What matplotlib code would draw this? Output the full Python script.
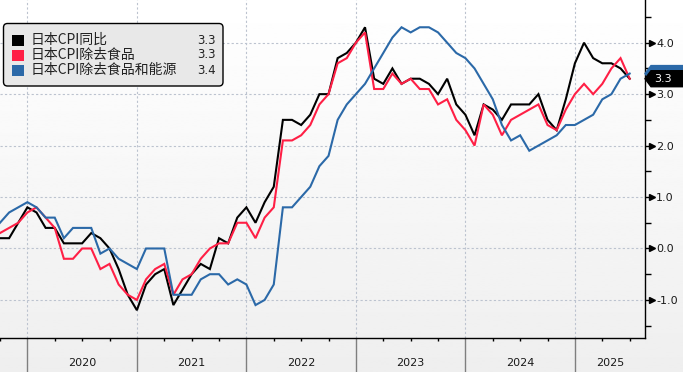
"""
Japan CPI YoY: headline, ex fresh food, ex fresh food and energy.
Bloomberg-style line chart with right-hand axis and last-value tags.
"""

import numpy as np
import pandas as pd
import matplotlib
matplotlib.use("Agg")
import matplotlib.pyplot as plt
from matplotlib.patches import FancyBboxPatch, Rectangle, Polygon
from matplotlib.transforms import IdentityTransform, blended_transform_factory

# ============================== data =========================================

MONTHS = pd.period_range("2019-09", "2025-06", freq="M")

CPI_ALL = [0.2, 0.2, 0.5, 0.8,
           0.7, 0.4, 0.4, 0.1, 0.1, 0.1, 0.3, 0.2, 0.0, -0.4, -0.9, -1.2,
           -0.7, -0.5, -0.4, -1.1, -0.8, -0.5, -0.3, -0.4, 0.2, 0.1, 0.6, 0.8,
           0.5, 0.9, 1.2, 2.5, 2.5, 2.4, 2.6, 3.0, 3.0, 3.7, 3.8, 4.0,
           4.3, 3.3, 3.2, 3.5, 3.2, 3.3, 3.3, 3.2, 3.0, 3.3, 2.8, 2.6,
           2.2, 2.8, 2.7, 2.5, 2.8, 2.8, 2.8, 3.0, 2.5, 2.3, 2.9, 3.6,
           4.0, 3.7, 3.6, 3.6, 3.5, 3.3]

CPI_CORE = [0.3, 0.4, 0.5, 0.7,
            0.8, 0.6, 0.4, -0.2, -0.2, 0.0, 0.0, -0.4, -0.3, -0.7, -0.9, -1.0,
            -0.6, -0.4, -0.3, -0.9, -0.6, -0.5, -0.2, 0.0, 0.1, 0.1, 0.5, 0.5,
            0.2, 0.6, 0.8, 2.1, 2.1, 2.2, 2.4, 2.8, 3.0, 3.6, 3.7, 4.0,
            4.2, 3.1, 3.1, 3.4, 3.2, 3.3, 3.1, 3.1, 2.8, 2.9, 2.5, 2.3,
            2.0, 2.8, 2.6, 2.2, 2.5, 2.6, 2.7, 2.8, 2.4, 2.3, 2.7, 3.0,
            3.2, 3.0, 3.2, 3.5, 3.7, 3.3]

CPI_CORE_CORE = [0.5, 0.7, 0.8, 0.9,
                 0.8, 0.6, 0.6, 0.2, 0.4, 0.4, 0.4, -0.1, 0.0, -0.2, -0.3, -0.4,
                 0.0, 0.0, 0.0, -0.9, -0.9, -0.9, -0.6, -0.5, -0.5, -0.7, -0.6, -0.7,
                 -1.1, -1.0, -0.7, 0.8, 0.8, 1.0, 1.2, 1.6, 1.8, 2.5, 2.8, 3.0,
                 3.2, 3.5, 3.8, 4.1, 4.3, 4.2, 4.3, 4.3, 4.2, 4.0, 3.8, 3.7,
                 3.5, 3.2, 2.9, 2.4, 2.1, 2.2, 1.9, 2.0, 2.1, 2.2, 2.4, 2.4,
                 2.5, 2.6, 2.9, 3.0, 3.3, 3.4]

SERIES_NAMES = ["日本CPI同比", "日本CPI除去食品", "日本CPI除去食品和能源"]
SERIES_COLORS = ["#000000", "#ff1f45", "#2b69a8"]

YEARS = [2020, 2021, 2022, 2023, 2024, 2025]
Y_TICKS = [-1, 0, 1, 2, 3, 4]

# ============================== defines ======================================

W, H = 683, 372
CJK = ["Noto Sans CJK SC", "DejaVu Sans"]
GRID_COLOR = "#bcc3cf"
XLIM = (-2.66, 67.68)
YLIM = (-1.74, 4.83)

# ============================== main =========================================


def month_pos(periods):
    # position at month end, Jan 2020 start = 0
    return np.array([(p.year - 2020) * 12 + p.month for p in periods])


def main():
    plt.rcParams["axes.unicode_minus"] = False
    plt.rcParams["font.family"] = "DejaVu Sans"

    fig = plt.figure(figsize=(W / 100, H / 100), dpi=100)

    # background gradient
    bg = fig.add_axes([0, 0, 1, 1], zorder=-10)
    bg.imshow(np.linspace(1.0, 0.935, 256).reshape(-1, 1), cmap="gray",
              vmin=0, vmax=1, aspect="auto", extent=[0, 1, 0, 1])
    bg.axis("off")

    ax = fig.add_axes([0, 34 / H, 645 / W, 338 / H])
    ax.set_facecolor("none")

    x = month_pos(MONTHS)
    series = [CPI_ALL, CPI_CORE, CPI_CORE_CORE]
    for vals, col in zip(series, SERIES_COLORS):
        ax.plot(x, vals, color=col, lw=1.5, zorder=3, solid_joinstyle="miter")

    ax.set_xlim(*XLIM)
    ax.set_ylim(*YLIM)

    # grid
    year_edges = [(y - 2020) * 12 for y in YEARS]
    for yv in Y_TICKS:
        ax.axhline(yv, color=GRID_COLOR, lw=0.8, ls=(0, (2, 2)), zorder=1)
    for xv in year_edges:
        ax.axvline(xv, color=GRID_COLOR, lw=0.8, ls=(0, (2, 2)), zorder=1)

    # spines
    for s in ["left", "top"]:
        ax.spines[s].set_visible(False)
    ax.spines["right"].set_linewidth(1.0)
    ax.spines["bottom"].set_linewidth(1.0)

    # y axis on the right
    ax.yaxis.tick_right()
    ax.set_yticks(Y_TICKS)
    ax.set_yticklabels(["%.1f" % v for v in Y_TICKS])
    ax.set_yticks(np.arange(-1.5, 4.6, 1.0), minor=True)
    ax.tick_params(axis="y", which="major", length=4, width=1, pad=4,
                   labelsize=8, labelcolor="#1a1a1a")
    ax.tick_params(axis="y", which="minor", length=4, width=1)
    yt = blended_transform_factory(ax.transAxes, ax.transData)
    ax.plot([1 + 7 / 645] * len(Y_TICKS), Y_TICKS, ">", color="black",
            markersize=4.5, transform=yt, clip_on=False)

    # x axis: quarter ticks, year separators and labels
    ax.set_xticks([])
    quarters = [q for q in range(-3, 68, 3) if q % 12 != 0]
    ax.set_xticks(quarters, minor=True)
    ax.tick_params(axis="x", which="minor", length=2.5, width=1, direction="out")
    xt = blended_transform_factory(ax.transData, ax.transAxes)
    for xv in year_edges:
        ax.plot([xv, xv], [0, -34 / 338], color="#7f7f7f", lw=1.0,
                transform=xt, clip_on=False)
    for yr, xv in zip(YEARS, year_edges):
        right = min(xv + 12, XLIM[1])
        ax.text((xv + right) / 2, -25 / 338, str(yr), transform=xt,
                ha="center", va="center", fontsize=8, color="#1a1a1a")

    # last value tags on the right axis
    fig.canvas.draw()
    for vals, col in [(CPI_CORE_CORE, SERIES_COLORS[2]), (CPI_ALL, SERIES_COLORS[0])]:
        yp = ax.transData.transform((0, vals[-1]))[1]
        x0 = ax.transAxes.transform((1, 0))[0]
        poly = Polygon([(x0, yp), (x0 + 6, yp + 8), (W, yp + 8), (W, yp - 8),
                        (x0 + 6, yp - 8)], closed=True, facecolor=col,
                       edgecolor=col, transform=IdentityTransform(), zorder=10)
        fig.add_artist(poly)
    yp = ax.transData.transform((0, CPI_ALL[-1]))[1]
    fig.text(663, yp, "%.1f" % CPI_ALL[-1], transform=IdentityTransform(),
             ha="center", va="center", fontsize=8, color="white", zorder=11)

    # legend box
    box = FancyBboxPatch((3.5, H - 86), 219.5, 62.5,
                         boxstyle="round,pad=0,rounding_size=4",
                         facecolor="#e8e8e8", edgecolor="black", lw=1.0,
                         transform=IdentityTransform(), zorder=8)
    fig.add_artist(box)
    for i, (name, col, vals) in enumerate(zip(SERIES_NAMES, SERIES_COLORS, series)):
        yc = H - (40 + 15 * i)
        fig.add_artist(Rectangle((12, yc - 5.5), 12, 11, facecolor=col,
                                 edgecolor="none", transform=IdentityTransform(),
                                 zorder=9))
        fig.text(31, yc, name, transform=IdentityTransform(), ha="left",
                 va="center", fontsize=10, family=CJK, color="#222222", zorder=9)
        fig.text(216, yc, "%.1f" % vals[-1], transform=IdentityTransform(),
                 ha="right", va="center", fontsize=8.5, color="#222222", zorder=9)

    fig.savefig("out.png", dpi=100)


if __name__ == '__main__':
    main()
